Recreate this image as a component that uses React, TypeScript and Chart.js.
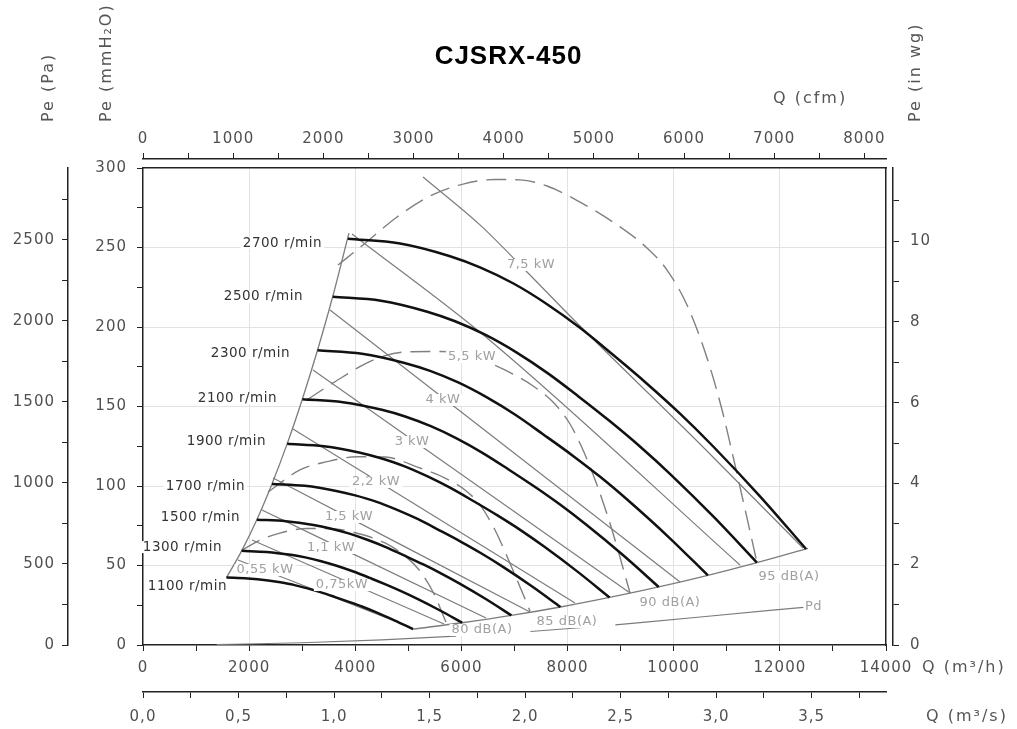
import React, { useEffect, useRef } from 'react';
import { Chart, registerables } from 'chart.js';

Chart.register(...registerables);

const CHART_TITLE = 'CJSRX-450';

// ---- axis ticks ----
const Q_M3H_TICKS = [0, 1000, 2000, 3000, 4000, 5000, 6000, 7000, 8000, 9000, 10000, 11000, 12000, 13000, 14000];
const Q_M3H_LABELS = [0, 2000, 4000, 6000, 8000, 10000, 12000, 14000];
const Q_M3H_GRID = [2000, 4000, 6000, 8000, 10000, 12000];
const Q_M3S_TICKS = [0, 0.25, 0.5, 0.75, 1, 1.25, 1.5, 1.75, 2, 2.25, 2.5, 2.75, 3, 3.25, 3.5, 3.75];
const Q_M3S_LABEL_VALUES = [0, 0.5, 1, 1.5, 2, 2.5, 3, 3.5];
const Q_M3S_LABEL_TEXT = ['0,0', '0,5', '1,0', '1,5', '2,0', '2,5', '3,0', '3,5'];
const Q_CFM_TICKS = [0, 500, 1000, 1500, 2000, 2500, 3000, 3500, 4000, 4500, 5000, 5500, 6000, 6500, 7000, 7500, 8000];
const Q_CFM_LABELS = [0, 1000, 2000, 3000, 4000, 5000, 6000, 7000, 8000];
const PE_MM_TICKS = [0, 25, 50, 75, 100, 125, 150, 175, 200, 225, 250, 275, 300];
const PE_MM_LABELS = [0, 50, 100, 150, 200, 250, 300];
const PE_MM_GRID = [50, 100, 150, 200, 250];
const PE_PA_TICKS = [0, 250, 500, 750, 1000, 1250, 1500, 1750, 2000, 2250, 2500, 2750];
const PE_PA_LABELS = [0, 500, 1000, 1500, 2000, 2500];
const PE_INWG_TICKS = [0, 1, 2, 3, 4, 5, 6, 7, 8, 9, 10, 11];
const PE_INWG_LABELS = [0, 2, 4, 6, 8, 10];

// unit ranges
const Q_M3H_MAX = 14000;
const PE_MM_MAX = 300;
const Q_M3S_MAX = 14000 / 3600;
const Q_CFM_MAX = 14000 / 1.69901;
const PE_PA_MAX = 300 * 9.80665;
const PE_INWG_MAX = 300 / 25.4;

// ---- fan curves [Q m3/h, Pe mmH2O] ----
const CURVE_2700 = [[3860, 255.5], [4843, 252.5], [5785, 244.5], [6350, 237.5], [6972, 227.5], [7607, 214.5], [8234, 199.5], [8856, 182.5], [9491, 164.5], [10119, 145.5], [10740, 125], [11626, 93.5], [12493, 60.4]];
const CURVE_2500 = [[3574, 219.0], [4484, 216.5], [5356, 209.6], [5880, 203.6], [6455, 195.0], [7043, 183.9], [7624, 171.0], [8200, 156.5], [8788, 141.0], [9369, 124.7], [9944, 107.2], [10764, 80.2], [11567, 51.8]];
const CURVE_2300 = [[3288, 185.4], [4126, 183.2], [4928, 177.4], [5410, 172.4], [5939, 165.1], [6480, 155.7], [7015, 144.8], [7544, 132.4], [8085, 119.4], [8620, 105.6], [9149, 90.7], [9904, 67.9], [10643, 43.8]];
const CURVE_2100 = [[3002, 154.6], [3767, 152.7], [4500, 147.9], [4939, 143.7], [5423, 137.6], [5917, 129.8], [6404, 120.7], [6888, 110.4], [7382, 99.5], [7871, 88.0], [8354, 75.6], [9043, 56.6], [9717, 36.5]];
const CURVE_1900 = [[2716, 126.5], [3408, 125.0], [4071, 121.1], [4468, 117.6], [4906, 112.7], [5353, 106.2], [5794, 98.8], [6232, 90.4], [6679, 81.5], [7121, 72.1], [7558, 61.9], [8181, 46.3], [8791, 29.9]];
const CURVE_1700 = [[2430, 101.3], [3049, 100.1], [3642, 96.9], [3998, 94.1], [4390, 90.2], [4789, 85.0], [5184, 79.1], [5576, 72.3], [5976, 65.2], [6371, 57.7], [6762, 49.6], [7320, 37.1], [7866, 23.9]];
const CURVE_1500 = [[2145, 78.8], [2691, 77.9], [3214, 75.5], [3528, 73.3], [3874, 70.2], [4226, 66.2], [4575, 61.6], [4920, 56.3], [5273, 50.8], [5622, 44.9], [5967, 38.6], [6459, 28.9], [6941, 18.6]];
const CURVE_1300 = [[1859, 59.2], [2332, 58.5], [2785, 56.7], [3058, 55.1], [3357, 52.7], [3663, 49.7], [3965, 46.2], [4264, 42.3], [4570, 38.1], [4872, 33.7], [5171, 29.0], [5598, 21.7], [6015, 14.0]];
const CURVE_1100 = [[1573, 42.4], [1973, 41.9], [2357, 40.6], [2587, 39.4], [2840, 37.8], [3099, 35.6], [3355, 33.1], [3608, 30.3], [3867, 27.3], [4123, 24.2], [4376, 20.8], [4736, 15.5], [5090, 10.0]];

const RPM_NAMES = ['2700 r/min', '2500 r/min', '2300 r/min', '2100 r/min', '1900 r/min', '1700 r/min', '1500 r/min', '1300 r/min', '1100 r/min'];
const RPM_LABEL_AT = [[3373, 252.8], [3015, 218.9], [2770, 183.6], [2525, 155.3], [2318, 128.3], [1922, 99.4], [1828, 79.9], [1489, 61.6], [1583, 36.5]];

// limits of the working zone
const LIMIT_LEFT = [[1573, 42.4], [1859, 59.2], [2145, 78.8], [2430, 101.3], [2716, 126.5], [3002, 154.6], [3288, 185.4], [3574, 219.0], [3880, 259]];
const LIMIT_BOTTOM = [[5090, 10.0], [6015, 14.0], [6941, 18.6], [7866, 23.9], [8791, 29.9], [9717, 36.5], [10643, 43.8], [11567, 51.8], [12530, 60.8]];

// absorbed power lines
const KW_7_5 = [[5276, 294.3], [6350, 264.2], [7236, 234.6], [8234, 200.6], [10496, 126.4], [12437, 61]];
const KW_5_5 = [[3938, 258.5], [6482, 193.1], [11249, 50.3]];
const KW_4 = [[3524, 210.7], [10119, 39.6]];
const KW_3 = [[3203, 173], [9177, 32.7]];
const KW_2_2 = [[2826, 135.8], [8140, 26.4]];
const KW_1_5 = [[2450, 105], [7292, 20.8]];
const KW_1_1 = [[2242, 84.9], [6463, 17]];
const KW_0_75 = [[2054, 66], [5672, 13.2]];
const KW_0_55 = [[1790, 53.5], [5031, 11.3]];

const KW_NAMES = ['7,5 kW', '5,5 kW', '4 kW', '3 kW', '2,2 kW', '1,5 kW', '1,1 kW', '0,75kW', '0,55 kW'];
const KW_LABEL_AT = [[7311, 239], [6199, 181.1], [5653, 154.1], [5069, 127.7], [4390, 102.5], [3882, 80.5], [3542, 61], [3750, 37.7], [2299, 47.2]];

// dashed domes
const DOME_1 = [[3674, 239], [4145, 251.6], [4786, 269.2], [5408, 282.4], [6030, 289.9], [6633, 292.8], [7104, 292.5], [7613, 288.7], [8234, 278.6], [8856, 266], [9497, 249.7], [9874, 235.8], [10251, 213.8], [10628, 180.5], [10911, 147.8], [11155, 113.2], [11381, 79.9], [11570, 51.6]];
const DOME_2 = [[3085, 154.1], [3580, 164.8], [4334, 179.2], [4937, 184.3], [5596, 184.6], [6067, 183.0], [6482, 178.0], [6972, 170.4], [7349, 162.9], [7726, 152.8], [8046, 139.0], [8291, 122.6], [8555, 100.6], [8838, 72.3], [9177, 32.7]];
const DOME_3 = [[2355, 96.2], [2958, 110.1], [3467, 115.3], [4032, 118.4], [4560, 118.2], [5220, 111.3], [5691, 105.0], [6067, 97.5], [6350, 88.1], [6633, 72.3], [6953, 48.4], [7292, 21.4]];
const DOME_4 = [[1866, 59.7], [2205, 66.0], [2581, 70.4], [3090, 73.3], [3618, 73.0], [4089, 69.8], [4560, 64.2], [4937, 56.0], [5220, 46.5], [5465, 33.3], [5709, 14.5]];

// dynamic pressure (null = gap)
const PD_LINE: (number[] | null)[] = [[1388, 0.3], [3000, 1.4], [4500, 3.2], [5900, 5.6], null, [7300, 8.5], [8600, 11.8], null, [8900, 12.6], [10500, 17.6], [12443, 23.7]];

const DB_NAMES = ['80 dB(A)', '85 dB(A)', '90 dB(A)', '95 dB(A)'];
const DB_LABEL_AT = [[6388, 9.4], [7989, 14.5], [9930, 26.4], [12173, 42.8]];
const PD_NAME = 'Pd';
const PD_LABEL_AT = [12474, 23.9];

const xy = (pts: (number[] | null)[]) =>
  pts.map((p, i) => (p ? { x: p[0], y: p[1] } : { x: (pts[i - 1] as number[])[0] + 1, y: null }));

const near = (list: number[], v: number) => list.some((l) => Math.abs(l - v) < 1e-6);

const tickSetter = (list: number[]) => (scale: any) => {
  scale.ticks = list.map((value) => ({ value }));
};

const fanTexts = {
  id: 'fanTexts',
  beforeDraw(chart: any) {
    chart.ctx.letterSpacing = '1px';
  },
  afterDatasetsDraw(chart: any) {
    const ctx = chart.ctx;
    const xs = chart.scales.x;
    const ys = chart.scales.y;
    ctx.save();
    ctx.letterSpacing = '0.5px';
    ctx.textBaseline = 'middle';
    ctx.textAlign = 'left';
    const put = (text: string, q: number, p: number, align: string, font: string, color: string, bg: boolean) => {
      const px = xs.getPixelForValue(q);
      const py = ys.getPixelForValue(p);
      ctx.font = font;
      const w = ctx.measureText(text).width;
      const left = align === 'right' ? px - w : align === 'center' ? px - w / 2 : px;
      if (bg) {
        ctx.fillStyle = '#ffffff';
        ctx.fillRect(left - 2, py - 6, w + 4, 12);
      }
      ctx.fillStyle = color;
      ctx.fillText(text, left, py);
    };
    RPM_NAMES.forEach((t, i) => put(t, RPM_LABEL_AT[i][0], RPM_LABEL_AT[i][1], 'right', '13.5px "DejaVu Sans"', '#333333', true));
    KW_NAMES.forEach((t, i) => put(t, KW_LABEL_AT[i][0], KW_LABEL_AT[i][1], 'center', '13px "DejaVu Sans"', '#a0a0a0', true));
    DB_NAMES.forEach((t, i) => put(t, DB_LABEL_AT[i][0], DB_LABEL_AT[i][1], 'center', '13px "DejaVu Sans"', '#a0a0a0', true));
    put(PD_NAME, PD_LABEL_AT[0], PD_LABEL_AT[1], 'left', '13px "DejaVu Sans"', '#a0a0a0', false);
    ctx.restore();
  },
  afterDraw(chart: any) {
    const ctx = chart.ctx;
    ctx.save();
    ctx.letterSpacing = '2px';
    ctx.font = '16px "DejaVu Sans"';
    ctx.fillStyle = '#555555';
    ctx.textBaseline = 'middle';
    ctx.textAlign = 'left';
    const rot = (text: string, cx: number, bottom: number) => {
      ctx.save();
      ctx.translate(cx, bottom);
      ctx.rotate(-Math.PI / 2);
      ctx.fillText(text, 0, 0);
      ctx.restore();
    };
    rot('Pe (Pa)', 49, 122);
    rot('Pe (mmH₂O)', 107, 122);
    rot('Pe (in wg)', 916, 122);
    ctx.fillText('Q (cfm)', 773, 99);
    ctx.fillText('Q (m³/h)', 922, 668);
    ctx.fillText('Q (m³/s)', 926, 717);
    ctx.restore();
  },
};

const TICK_FONT = { family: 'DejaVu Sans', size: 15 };
const TICK_COLOR = '#505050';
const AXIS_COLOR = '#222222';

export default function App() {
  const ref = useRef<HTMLCanvasElement | null>(null);

  useEffect(() => {
    if (!ref.current) return;
    const thick = (pts: number[][]) => ({
      data: xy(pts), borderColor: '#111111', borderWidth: 2.5, pointRadius: 0,
      cubicInterpolationMode: 'monotone', fill: false,
    });
    const thin = (pts: number[][], w = 1.2) => ({
      data: xy(pts), borderColor: '#7c7c7c', borderWidth: w, pointRadius: 0,
      cubicInterpolationMode: 'monotone', fill: false,
    });
    const dashed = (pts: number[][]) => ({
      data: xy(pts), borderColor: '#808080', borderWidth: 1.4, borderDash: [20, 9], pointRadius: 0,
      cubicInterpolationMode: 'monotone', fill: false,
    });
    const datasets: any[] = [
      thick(CURVE_2700), thick(CURVE_2500), thick(CURVE_2300), thick(CURVE_2100), thick(CURVE_1900),
      thick(CURVE_1700), thick(CURVE_1500), thick(CURVE_1300), thick(CURVE_1100),
      thin(LIMIT_LEFT, 1.3), thin(LIMIT_BOTTOM, 1.3),
      thin(KW_7_5), thin(KW_5_5), thin(KW_4), thin(KW_3), thin(KW_2_2), thin(KW_1_5), thin(KW_1_1), thin(KW_0_75), thin(KW_0_55),
      dashed(DOME_1), dashed(DOME_2), dashed(DOME_3), dashed(DOME_4),
      { ...thin(PD_LINE as number[][], 1.2), data: xy(PD_LINE), spanGaps: false },
    ];

    const spacer = (pos: string, size: number) => ({
      type: 'linear', position: pos, min: 0, max: 1, weight: 0,
      ticks: { display: false }, grid: { display: false, drawTicks: false },
      border: { display: true, color: AXIS_COLOR, width: 1.5 },
      afterFit: (s: any) => { if (pos === 'top' || pos === 'bottom') s.height = size; else s.width = size; },
    });

    const chart = new Chart(ref.current, {
      type: 'line',
      data: { datasets },
      plugins: [fanTexts],
      options: {
        animation: false,
        responsive: true,
        maintainAspectRatio: false,
        layout: { padding: 0, autoPadding: false },
        plugins: {
          legend: { display: false },
          tooltip: { enabled: false },
          title: {
            display: true, text: CHART_TITLE, color: '#000000',
            font: { family: 'Liberation Sans', size: 26, weight: 'bold' },
            padding: { top: 41, bottom: 47.8 },
          },
        },
        scales: {
          x: {
            type: 'linear', position: 'bottom', min: 0, max: Q_M3H_MAX, weight: 0,
            afterBuildTicks: tickSetter(Q_M3H_TICKS),
            ticks: { autoSkip: false, maxRotation: 0, padding: 8, font: TICK_FONT, color: TICK_COLOR,
              callback: (v: any) => (near(Q_M3H_LABELS, v) ? String(v) : '') },
            grid: { color: (c: any) => (c.tick && near(Q_M3H_GRID, c.tick.value) ? '#e2e2e2' : 'rgba(0,0,0,0)'),
              tickColor: AXIS_COLOR, tickLength: 6, lineWidth: 1 },
            border: { display: true, color: AXIS_COLOR, width: 1.5 },
            afterFit: (s: any) => { s.height = 47; },
          },
          xM3s: {
            type: 'linear', position: 'bottom', min: 0, max: Q_M3S_MAX, weight: 1,
            afterBuildTicks: tickSetter(Q_M3S_TICKS),
            ticks: { autoSkip: false, maxRotation: 0, padding: 10, font: TICK_FONT, color: TICK_COLOR,
              callback: (v: any) => { const i = Q_M3S_LABEL_VALUES.findIndex((l) => Math.abs(l - v) < 1e-6); return i >= 0 ? Q_M3S_LABEL_TEXT[i] : ''; } },
            grid: { drawOnChartArea: false, color: AXIS_COLOR, tickColor: AXIS_COLOR, tickLength: 6 },
            border: { display: true, color: AXIS_COLOR, width: 1.5 },
            afterFit: (s: any) => { s.height = 37; },
          },
          xTopSpacer: spacer('top', 9),
          xCfm: {
            type: 'linear', position: 'top', min: 0, max: Q_CFM_MAX, weight: 1,
            afterBuildTicks: tickSetter(Q_CFM_TICKS),
            ticks: { autoSkip: false, maxRotation: 0, padding: 5, font: TICK_FONT, color: TICK_COLOR,
              callback: (v: any) => (near(Q_CFM_LABELS, v) ? String(v) : '') },
            grid: { drawOnChartArea: false, color: AXIS_COLOR, tickColor: AXIS_COLOR, tickLength: 6 },
            border: { display: true, color: AXIS_COLOR, width: 1.5 },
            afterFit: (s: any) => { s.height = 39; },
          },
          y: {
            type: 'linear', position: 'left', min: 0, max: PE_MM_MAX, weight: 0,
            afterBuildTicks: tickSetter(PE_MM_TICKS),
            ticks: { autoSkip: false, padding: 10, font: TICK_FONT, color: TICK_COLOR,
              callback: (v: any) => (near(PE_MM_LABELS, v) ? String(v) : '') },
            grid: { color: (c: any) => (c.tick && near(PE_MM_GRID, c.tick.value) ? '#e2e2e2' : 'rgba(0,0,0,0)'),
              tickColor: AXIS_COLOR, tickLength: 6, lineWidth: 1 },
            border: { display: true, color: AXIS_COLOR, width: 1.5 },
            afterFit: (s: any) => { s.width = 75; },
          },
          yPa: {
            type: 'linear', position: 'left', min: 0, max: PE_PA_MAX, weight: 1,
            afterBuildTicks: tickSetter(PE_PA_TICKS),
            ticks: { autoSkip: false, padding: 7, font: TICK_FONT, color: TICK_COLOR,
              callback: (v: any) => (near(PE_PA_LABELS, v) ? String(v) : '') },
            grid: { drawOnChartArea: false, color: AXIS_COLOR, tickColor: AXIS_COLOR, tickLength: 6 },
            border: { display: true, color: AXIS_COLOR, width: 1.5 },
            afterFit: (s: any) => { s.width = 68; },
          },
          yRightSpacer: spacer('right', 7),
          yInWg: {
            type: 'linear', position: 'right', min: 0, max: PE_INWG_MAX, weight: 1,
            afterBuildTicks: tickSetter(PE_INWG_TICKS),
            ticks: { autoSkip: false, padding: 11, font: TICK_FONT, color: TICK_COLOR,
              callback: (v: any) => (near(PE_INWG_LABELS, v) ? String(v) : '') },
            grid: { drawOnChartArea: false, color: AXIS_COLOR, tickColor: AXIS_COLOR, tickLength: 6 },
            border: { display: true, color: AXIS_COLOR, width: 1.5 },
            afterFit: (s: any) => { s.width = 124; },
          },
        },
      } as any,
    });
    return () => chart.destroy();
  }, []);

  return (
    <div style={{ position: 'absolute', left: 0, top: 0, width: 1017, height: 729, background: '#ffffff' }}>
      <canvas ref={ref} />
    </div>
  );
}
